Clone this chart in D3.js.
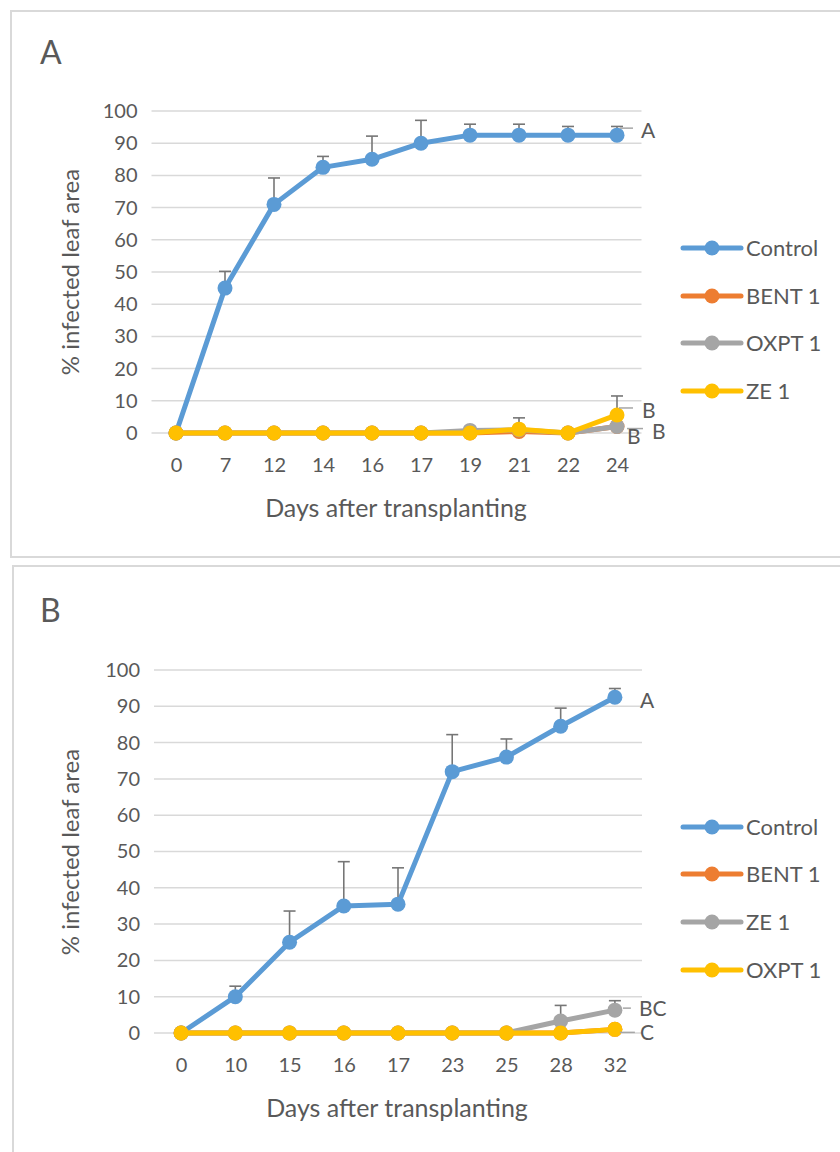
<!DOCTYPE html>
<html>
<head>
<meta charset="utf-8">
<script src="https://cdn.jsdelivr.net/npm/d3@7/dist/d3.min.js"></script>
<style>
  html, body { margin: 0; padding: 0; background: #fff; }
  svg { display: block; }
  text { font-family: Lato, "Open Sans", sans-serif; fill: #595959; }
</style>
</head>
<body>
<svg id="chart" width="840" height="1152"></svg>
<script>
// ---- Panel A: days after transplanting and % infected leaf area ----
const daysA = ["0", "7", "12", "14", "16", "17", "19", "21", "22", "24"];
const controlA = [0, 45, 71, 82.5, 85, 90, 92.5, 92.5, 92.5, 92.5];
const controlErrA = [0, 5.2, 8.2, 3.4, 7.2, 7.1, 3.4, 3.4, 2.7, 2.7];
const bentA = [0, 0, 0, 0, 0, 0, 0, 0.5, 0, 2];
const oxptA = [0, 0, 0, 0, 0, 0, 0.8, 1, 0, 2];
const ze1A = [0, 0, 0, 0, 0, 0, 0, 1.2, 0, 5.6];
const ze1ErrA = [0, 0, 0, 0, 0, 0, 0, 3.5, 0, 5.9];

// ---- Panel B ----
const daysB = ["0", "10", "15", "16", "17", "23", "25", "28", "32"];
const controlB = [0, 10, 25, 35, 35.5, 72, 76, 84.5, 92.5];
const controlErrB = [0, 2.9, 8.6, 12.2, 10, 10.2, 5, 5, 2.4];
const bentB = [0, 0, 0, 0, 0, 0, 0, 0, 1];
const ze1B = [0, 0, 0, 0, 0, 0, 0, 3.3, 6.3];
const ze1ErrB = [0, 0, 0, 0, 0, 0, 0, 4.3, 2.6];
const oxptB = [0, 0, 0, 0, 0, 0, 0, 0, 1];

const yTicks = [0, 10, 20, 30, 40, 50, 60, 70, 80, 90, 100];

// series colours follow the order of the series in each chart
const PALETTE = ["#5B9BD5", "#ED7D31", "#A5A5A5", "#FFC000"];

const svg = d3.select("#chart");

function drawPanel(cfg) {
  const g = svg.append("g");

  // chart frame
  g.append("rect")
    .attr("x", cfg.frame.x).attr("y", cfg.frame.y)
    .attr("width", cfg.frame.w).attr("height", cfg.frame.h)
    .attr("fill", "#fff").attr("stroke", "#d9d9d9").attr("stroke-width", 2);

  // panel letter
  g.append("text").attr("x", cfg.title.x).attr("y", cfg.title.y)
    .attr("font-size", 32).text(cfg.title.text);

  const x = d3.scalePoint().domain(cfg.days).range([cfg.plot.left, cfg.plot.right]).padding(0.5);
  const y = d3.scaleLinear().domain([0, 100]).range([cfg.plot.bottom, cfg.plot.top]);

  // horizontal gridlines
  g.append("g").selectAll("line").data(yTicks).join("line")
    .attr("x1", cfg.plot.left).attr("x2", cfg.plot.right)
    .attr("y1", d => y(d)).attr("y2", d => y(d))
    .attr("stroke", "#d9d9d9").attr("stroke-width", 1.5);

  // y axis labels
  const yAxis = d3.axisLeft(y).tickValues(yTicks).tickSize(0).tickPadding(0);
  const ya = g.append("g").attr("transform", `translate(${cfg.plot.left - 14},0)`).call(yAxis);
  ya.select(".domain").remove();
  ya.selectAll("text").attr("font-size", 20).attr("fill", "#595959")
    .style("font-family", "Lato, sans-serif");

  // x axis labels
  const xAxis = d3.axisBottom(x).tickSize(0).tickPadding(0);
  const xa = g.append("g").attr("transform", `translate(0,${cfg.plot.bottom + 32})`).call(xAxis);
  xa.select(".domain").remove();
  xa.selectAll("text").attr("y", 0).attr("dy", "0.36em")
    .attr("font-size", 20).attr("fill", "#595959")
    .style("font-family", "Lato, sans-serif");

  // axis titles
  g.append("text").attr("x", cfg.xTitle.x).attr("y", cfg.xTitle.y)
    .attr("text-anchor", "middle").attr("dy", "0.36em").attr("font-size", 25)
    .text("Days after transplanting");
  g.append("text").attr("transform", `translate(${cfg.yTitle.x},${cfg.yTitle.y}) rotate(-90)`)
    .attr("text-anchor", "middle").attr("dy", "0.36em").attr("font-size", 24)
    .text("% infected leaf area");

  const line = d3.line().x((d, i) => x(cfg.days[i])).y(d => y(d));

  // series, drawn in legend order so later ones sit on top
  cfg.series.forEach((s, k) => {
    const col = PALETTE[k];
    const sg = g.append("g");
    sg.append("path").datum(s.values).attr("d", line)
      .attr("fill", "none").attr("stroke", col).attr("stroke-width", 5)
      .attr("stroke-linejoin", "round").attr("stroke-linecap", "round");
    if (s.err) {
      const eg = sg.append("g").attr("stroke", "#767676").attr("stroke-width", 1.6);
      s.values.forEach((v, i) => {
        const e = s.err[i];
        if (!e) return;
        const cx = x(cfg.days[i]);
        eg.append("line").attr("x1", cx).attr("x2", cx).attr("y1", y(v)).attr("y2", y(v + e));
        eg.append("line").attr("x1", cx - 6).attr("x2", cx + 6).attr("y1", y(v + e)).attr("y2", y(v + e));
      });
    }
    sg.selectAll("circle").data(s.values).join("circle")
      .attr("cx", (d, i) => x(cfg.days[i])).attr("cy", d => y(d))
      .attr("r", 7.5).attr("fill", col);
  });

  // significance letters next to the last point of each series
  cfg.letters.forEach(L => {
    const s = cfg.series.find(d => d.name === L.series);
    const last = s.values.length - 1;
    const px = x(cfg.days[last]), py = y(s.values[last]);
    if (L.leader) {
      g.append("line")
        .attr("x1", px + L.leader[0]).attr("x2", px + L.leader[1])
        .attr("y1", py + L.leader[2]).attr("y2", py + L.leader[2])
        .attr("stroke", "#a6a6a6").attr("stroke-width", 1.5);
    }
    g.append("text").attr("x", px + L.dx).attr("y", py + L.dy)
      .attr("dy", "0.36em").attr("font-size", 21).text(L.text);
  });

  // legend
  cfg.series.forEach((s, i) => {
    const ly = cfg.legend.ys[i];
    const col = PALETTE[i];
    g.append("line").attr("x1", cfg.legend.x).attr("x2", cfg.legend.x + 58)
      .attr("y1", ly).attr("y2", ly).attr("stroke", col).attr("stroke-width", 5)
      .attr("stroke-linecap", "round");
    g.append("circle").attr("cx", cfg.legend.x + 29).attr("cy", ly).attr("r", 7.5).attr("fill", col);
    g.append("text").attr("x", cfg.legend.x + 63).attr("y", ly).attr("dy", "0.36em")
      .attr("font-size", 22).text(s.name);
  });
}

drawPanel({
  frame: { x: 11, y: 11, w: 840, h: 546 },
  title: { text: "A", x: 40, y: 64 },
  plot: { left: 151.5, right: 641.5, top: 111, bottom: 433 },
  xTitle: { x: 396, y: 508 },
  yTitle: { x: 70, y: 272 },
  days: daysA,
  series: [
    { name: "Control", values: controlA, err: controlErrA },
    { name: "BENT 1", values: bentA },
    { name: "OXPT 1", values: oxptA },
    { name: "ZE 1", values: ze1A, err: ze1ErrA }
  ],
  letters: [
    { series: "Control", text: "A", dx: 24, dy: -5, leader: [3, 16, -7] },
    { series: "ZE 1", text: "B", dx: 25, dy: -5, leader: [2, 16, -7] },
    { series: "OXPT 1", text: "B", dx: 35, dy: 5, leader: [10, 26, 2] },
    { series: "BENT 1", text: "B", dx: 10, dy: 10 }
  ],
  legend: { x: 683, ys: [248, 296, 343, 391] }
});

drawPanel({
  frame: { x: 13, y: 566, w: 840, h: 600 },
  title: { text: "B", x: 40, y: 622 },
  plot: { left: 154, right: 642, top: 670, bottom: 1033 },
  xTitle: { x: 397, y: 1108 },
  yTitle: { x: 70, y: 852 },
  days: daysB,
  series: [
    { name: "Control", values: controlB, err: controlErrB },
    { name: "BENT 1", values: bentB },
    { name: "ZE 1", values: ze1B, err: ze1ErrB },
    { name: "OXPT 1", values: oxptB }
  ],
  letters: [
    { series: "Control", text: "A", dx: 25, dy: 3 },
    { series: "ZE 1", text: "BC", dx: 24, dy: -2, leader: [8, 16, -2] },
    { series: "OXPT 1", text: "C", dx: 25, dy: 3, leader: [5, 20, 3] }
  ],
  legend: { x: 683, ys: [827, 874, 922, 970] }
});
</script>
</body>
</html>
